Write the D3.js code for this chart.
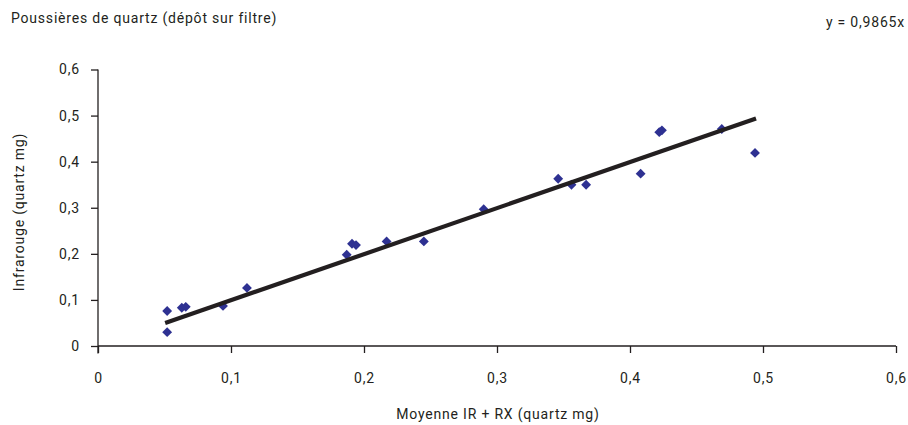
<!DOCTYPE html>
<html><head><meta charset="utf-8">
<script src="https://cdn.jsdelivr.net/npm/d3@7"></script>
<style>body{margin:0;background:#fff}svg{display:block}text{font-family:Roboto,"DejaVu Sans",sans-serif;fill:#231f20;letter-spacing:0.8px}</style>
</head><body><svg id="c" width="908" height="425"></svg>
<script>
const xValues = [0.052,0.052,0.063,0.066,0.094,0.112,0.187,0.191,0.194,0.217,0.245,0.290,0.346,0.356,0.367,0.408,0.422,0.424,0.469,0.494];
const yValues = [0.076,0.030,0.083,0.085,0.087,0.126,0.198,0.222,0.219,0.227,0.227,0.297,0.363,0.350,0.350,0.374,0.464,0.468,0.471,0.419];
const xTicks = [0,0.1,0.2,0.3,0.4,0.5,0.6];
const yTicks = [0,0.1,0.2,0.3,0.4,0.5,0.6];
const slope = 0.9865;
const title = "Poussières de quartz (dépôt sur filtre)";
const equation = "y = 0,9865x";
const xTitle = "Moyenne IR + RX (quartz mg)";
const yTitle = "Infrarouge (quartz mg)";

const svg = d3.select("#c");
const x = d3.scaleLinear().domain([0,0.6]).range([98,896]);
const y = d3.scaleLinear().domain([0,0.6]).range([346,69.5]);
const fmt = d => d===0 ? "0" : d3.format(".1f")(d).replace(".", ",");
const axisColor = "#231f20";
const FS = 14;

const gx = svg.append("g").attr("transform","translate(0,346)")
  .call(d3.axisBottom(x).tickValues(xTicks).tickSize(7).tickPadding(20).tickFormat(fmt));
const gy = svg.append("g").attr("transform","translate(98,0)")
  .call(d3.axisLeft(y).tickValues(yTicks).tickSize(7).tickPadding(11).tickFormat(fmt));
[gx,gy].forEach(g=>{
  g.select(".domain").attr("stroke",axisColor).attr("stroke-width",1.3);
  g.selectAll(".tick line").attr("stroke",axisColor).attr("stroke-width",1.3);
  g.selectAll("text").attr("font-size",FS).attr("font-family",'Roboto,"DejaVu Sans",sans-serif').attr("fill","#231f20");
});
gy.select(".domain").attr("d","M0,353.5V69.5");
gx.select(".domain").attr("d","M98,0H896");

const pts = xValues.map((v,i)=>({x:v,y:yValues[i]}));
svg.append("g").selectAll("path").data(pts).join("path")
  .attr("d", d3.symbol(d3.symbolDiamond2, 62)())
  .attr("transform", d=>`translate(${x(d.x)},${y(d.y)})`)
  .attr("fill","#2e3192");

const xmin = d3.min(xValues), xmax = d3.max(xValues);
svg.append("line")
  .attr("x1",x(xmin)-2).attr("y1",y(slope*(xmin-0.0015))).attr("x2",x(xmax)+1).attr("y2",y(slope*xmax)-3)
  .attr("stroke","#231f20").attr("stroke-width",4.2);

svg.append("text").attr("x",11).attr("y",22.5).attr("font-size",FS).text(title);
svg.append("text").attr("x",905).attr("y",27).attr("font-size",FS).attr("text-anchor","end").text(equation);
svg.append("text").attr("x",498).attr("y",419).attr("font-size",FS).attr("text-anchor","middle").text(xTitle);
svg.append("text").attr("transform","translate(23.5,212) rotate(-90)").attr("font-size",FS).attr("text-anchor","middle").text(yTitle);
</script></body></html>
